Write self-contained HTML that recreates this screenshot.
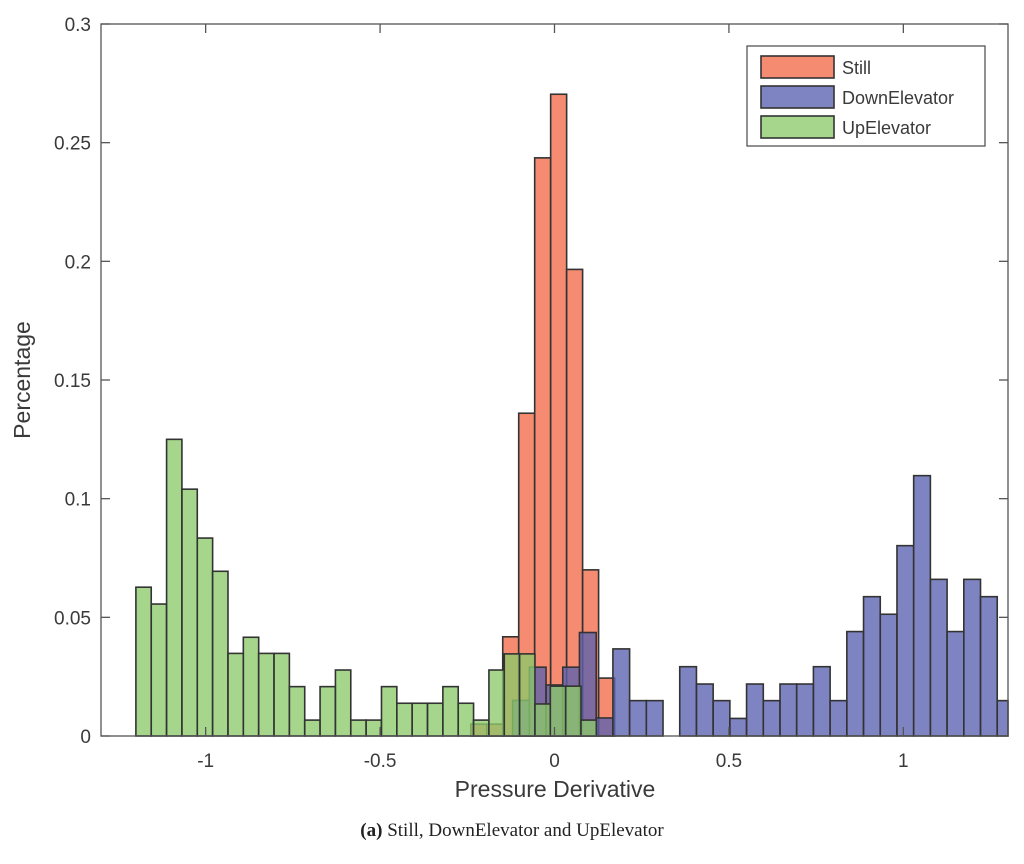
<!DOCTYPE html>
<html><head><meta charset="utf-8"><style>
body{margin:0;background:#fff;}
svg text{font-family:"Liberation Sans",sans-serif;fill:#3a3a3a;}
</style></head><body>
<svg id="chart" width="1024" height="859" xmlns="http://www.w3.org/2000/svg">
<rect width="1024" height="859" fill="#fff"/>
<g id="bars"></g>
<g id="axes"></g>
</svg>
<script>
const stillStart = -0.24, stillWidth = 0.0458;
const stillValues = [0.005,0.005,0.0418,0.136,0.2436,0.2704,0.1966,0.070,0.0244];
const downStart = -0.12, downWidth = 0.0479;
const downValues = [0.015,0.029,0.0215,0.029,0.0436,0.0076,0.0367,0.0149,0.0149,0,0.0292,0.0219,0.0149,0.0074,0.0219,0.0149,0.0219,0.0219,0.0292,0.0149,0.044,0.0587,0.0513,0.0802,0.1097,0.066,0.044,0.066,0.0587,0.0149];
const upStart = -1.2, upWidth = 0.044;
const upValues = [0.0627,0.0556,0.125,0.104,0.0834,0.0694,0.0348,0.0416,0.0348,0.0348,0.0208,0.0067,0.0208,0.0278,0.0067,0.0067,0.0208,0.0138,0.0138,0.0138,0.0208,0.0138,0.0067,0.0278,0.0346,0.0346,0.0135,0.021,0.021,0.0067];
const xTicks = [-1,-0.5,0,0.5,1];
const xTickLabels = ["-1","-0.5","0","0.5","1"];
const yTicks = [0,0.05,0.1,0.15,0.2,0.25,0.3];
const yTickLabels = ["0","0.05","0.1","0.15","0.2","0.25","0.3"];

const L=101,R=1008,T=24,B=736,xmin=-1.3,xmax=1.3,ymax=0.3;
const xs=v=>L+(v-xmin)/(xmax-xmin)*(R-L);
const ys=v=>B-v/ymax*(B-T);
const NS="http://www.w3.org/2000/svg";
const bars=document.getElementById('bars'), axes=document.getElementById('axes');
function mk(tag,attrs,parent){const e=document.createElementNS(NS,tag);for(const k in attrs)e.setAttribute(k,attrs[k]);parent.appendChild(e);return e;}
function series(start,w,vals,fill,name){
  vals.forEach((v,i)=>{
    let x0=xs(start+i*w), x1=xs(start+(i+1)*w);
    if(x0>=R) return; x1=Math.min(x1,R);
    const r=mk('rect',{x:x0,y:ys(v),width:x1-x0,height:B-ys(v),fill:fill,'fill-opacity':0.78,stroke:'#333','stroke-width':1.6},bars);
    
    
  });
}
series(stillStart,stillWidth,stillValues,'#F26A48','still');
series(downStart,downWidth,downValues,'#5A62B0','down-elevator');
series(upStart,upWidth,upValues,'#8CCB6C','up-elevator');

mk('rect',{x:L,y:T,width:R-L,height:B-T,fill:'none',stroke:'#555','stroke-width':1.3},axes);
xTicks.forEach((t,i)=>{
  mk('line',{x1:xs(t),x2:xs(t),y1:B,y2:B-9,stroke:'#555','stroke-width':1.3},axes);
  mk('line',{x1:xs(t),x2:xs(t),y1:T,y2:T+9,stroke:'#555','stroke-width':1.3},axes);
  const tx=mk('text',{x:xs(t),y:B+31,'text-anchor':'middle','font-size':19},axes);
  tx.textContent=xTickLabels[i];
  
  
});
yTicks.forEach((t,i)=>{
  mk('line',{x1:L,x2:L+9,y1:ys(t),y2:ys(t),stroke:'#555','stroke-width':1.3},axes);
  mk('line',{x1:R,x2:R-9,y1:ys(t),y2:ys(t),stroke:'#555','stroke-width':1.3},axes);
  const tx=mk('text',{x:L-10,y:ys(t)+7,'text-anchor':'end','font-size':19},axes);
  tx.textContent=yTickLabels[i];
  
  
});
</script>
<svg style="position:absolute;left:0;top:0" width="1024" height="859" xmlns="http://www.w3.org/2000/svg">
<text x="555" y="797" text-anchor="middle" font-size="23">Pressure Derivative</text>
<text transform="translate(30,380) rotate(-90)" text-anchor="middle" font-size="23">Percentage</text>
<g>
<rect x="747" y="46" width="238" height="100" fill="#fff" stroke="#555" stroke-width="1.3"/>
<rect x="761" y="56" width="73" height="22" fill="#F26A48" fill-opacity="0.78" stroke="#333" stroke-width="1.6"/>
<text x="842" y="74" font-size="18">Still</text>
<rect x="761" y="86" width="73" height="22" fill="#5A62B0" fill-opacity="0.78" stroke="#333" stroke-width="1.6"/>
<text x="842" y="104" font-size="18">DownElevator</text>
<rect x="761" y="116" width="73" height="22" fill="#8CCB6C" fill-opacity="0.78" stroke="#333" stroke-width="1.6"/>
<text x="842" y="134" font-size="18">UpElevator</text>
</g>
<text x="512" y="836" text-anchor="middle" font-size="19" style="font-family:'Liberation Serif',serif;fill:#222"><tspan font-weight="bold">(a)</tspan> Still, DownElevator and UpElevator</text>
</svg>
</body></html>
